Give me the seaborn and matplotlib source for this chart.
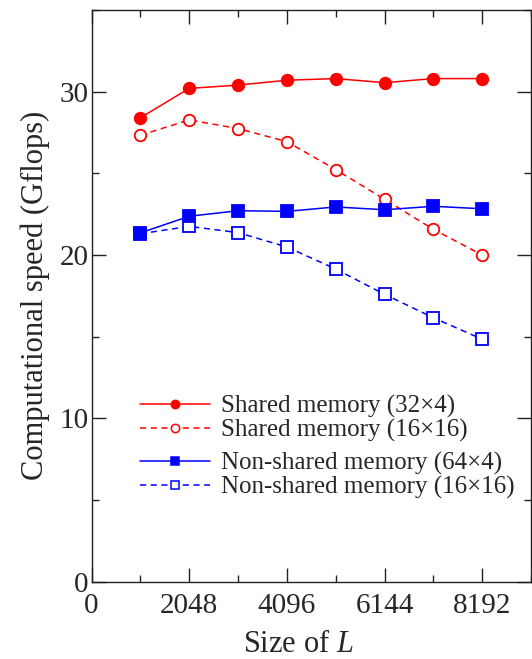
import numpy as np
import pandas as pd
import seaborn as sns
import matplotlib.pyplot as plt
from matplotlib.ticker import MultipleLocator, FixedLocator
from matplotlib.lines import Line2D

# tamanhos de L medidos
sizes = [1024, 2048, 3072, 4096, 5120, 6144, 7168, 8192]

# velocidade (Gflops)
shared_32x4 = [28.4, 30.2, 30.4, 30.7, 30.8, 30.55, 30.8, 30.8]
shared_16x16 = [27.33, 28.27, 27.74, 26.94, 25.23, 23.41, 21.57, 20.0]
nonshared_64x4 = [21.35, 22.37, 22.71, 22.67, 22.94, 22.77, 22.98, 22.83]
nonshared_16x16 = [21.3, 21.75, 21.37, 20.49, 19.14, 17.59, 16.16, 14.84]

labels = ["Shared memory (32×4)", "Shared memory (16×16)",
          "Non-shared memory (64×4)", "Non-shared memory (16×16)"]
xticks = [0, 2048, 4096, 6144, 8192]
yticks = [0, 10, 20, 30]

df = pd.DataFrame({
    "L": sizes * 4,
    "speed": shared_32x4 + shared_16x16 + nonshared_64x4 + nonshared_16x16,
    "serie": np.repeat(labels, len(sizes)),
})

sns.set_style("ticks")
plt.rcParams['font.family'] = ['Liberation Serif', 'DejaVu Serif']
plt.rcParams['mathtext.fontset'] = 'custom'
plt.rcParams['mathtext.rm'] = 'Liberation Serif'
plt.rcParams['mathtext.it'] = 'Liberation Serif:italic'

fig = plt.figure(figsize=(5.32, 6.59), dpi=100)
ax = fig.add_axes([91.5 / 532, 77.4 / 659, 439.5 / 532, 571.6 / 659])

estilos = {
    labels[0]: dict(color="#ff0000", marker="o", ls="-", mfc="#ff0000"),
    labels[1]: dict(color="#ff0000", marker="o", ls=(0, (4, 3)), mfc="white"),
    labels[2]: dict(color="#0000ff", marker="s", ls="-", mfc="#0000ff"),
    labels[3]: dict(color="#0000ff", marker="s", ls=(0, (4, 3)), mfc="white"),
}
ordem_z = {labels[0]: 3, labels[1]: 3, labels[2]: 4, labels[3]: 3}

for lab in labels:
    st = estilos[lab]
    sub = df[df["serie"] == lab]
    sns.lineplot(data=sub, x="L", y="speed", ax=ax, color=st["color"],
                 linestyle=st["ls"], marker=st["marker"], markersize=8.3,
                 markerfacecolor=st["mfc"], markeredgecolor=st["color"],
                 markeredgewidth=1.3, linewidth=1.1, zorder=ordem_z[lab],
                 legend=False)

ax.set_xlim(0, 9216)
ax.set_ylim(0, 35)
ax.xaxis.set_major_locator(FixedLocator(xticks))
ax.xaxis.set_minor_locator(MultipleLocator(1024))
ax.yaxis.set_major_locator(FixedLocator(yticks))
ax.yaxis.set_minor_locator(MultipleLocator(5))
ax.tick_params(which="both", direction="in", top=True, right=True,
               labelsize=21, width=1, color="#222222")
ax.tick_params(which="major", length=10)
ax.tick_params(axis="x", which="major", pad=8)
ax.tick_params(axis="y", which="major", pad=2)
ax.tick_params(which="minor", length=5)
for sp in ax.spines.values():
    sp.set_linewidth(1)
    sp.set_color("#222222")

ax.set_xlabel("Size of $L$", fontsize=22, labelpad=8)
ax.xaxis.label.set_x((298 - 91.5) / 439.5)
ax.set_ylabel("Computational speed (Gflops)", fontsize=22, labelpad=7)

def handles(idx):
    hs = []
    for lab in [labels[i] for i in idx]:
        st = estilos[lab]
        hs.append(Line2D([], [], color=st["color"], linestyle=st["ls"],
                         marker=st["marker"], markersize=6,
                         markerfacecolor=st["mfc"], markeredgecolor=st["color"],
                         markeredgewidth=1.1, linewidth=1.1))
    return hs

kw = dict(frameon=False, fontsize=18, handlelength=2.8, handletextpad=0.45,
          labelspacing=0.04, borderpad=0, borderaxespad=0, loc="upper left")
leg1 = ax.legend(handles([0, 1]), labels[:2],
                 bbox_to_anchor=(48.5 / 439.5, (582 - 395) / 571.6), **kw)
ax.add_artist(leg1)
ax.legend(handles([2, 3]), labels[2:],
          bbox_to_anchor=(48.5 / 439.5, (582 - 452) / 571.6), **kw)

fig.savefig("out.png", dpi=100)
